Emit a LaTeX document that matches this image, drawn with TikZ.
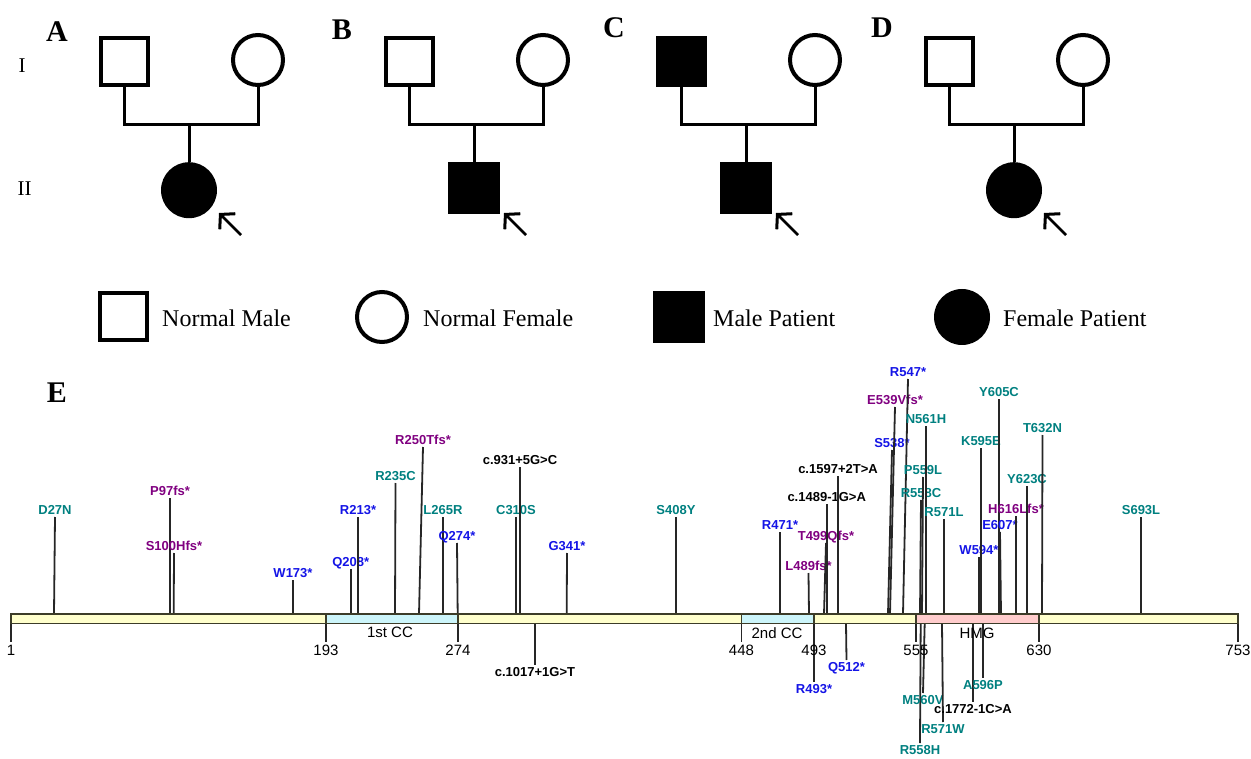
\documentclass[tikz,border=0pt]{standalone}
\usepackage{fontspec}
\setmainfont{Liberation Serif}
\setsansfont{Liberation Sans}
\usetikzlibrary{arrows.meta}
\definecolor{mteal}{RGB}{0,128,128}
\definecolor{mpurp}{RGB}{128,0,128}
\definecolor{mblue}{RGB}{20,20,230}
\definecolor{baryel}{RGB}{255,255,204}
\definecolor{cccyan}{RGB}{204,245,250}
\definecolor{hmgpink}{RGB}{255,204,204}
\definecolor{barline}{RGB}{60,60,40}
\begin{document}
\begin{tikzpicture}[x=1pt,y=-1pt,
  msq/.style={draw,line width=4pt,minimum size=47pt,inner sep=0pt,fill=white},
  fsq/.style={fill=black,minimum size=52pt,inner sep=0pt},
  mcirc/.style={circle,draw,line width=4pt,minimum size=50pt,inner sep=0pt,fill=white},
  fcirc/.style={circle,fill=black,minimum size=56pt,inner sep=0pt},
  conn/.style={line width=3pt},
  arr/.style={line width=2.8pt,-{Straight Barb[length=10pt,width=22pt,line width=3pt]}},
  panel/.style={font=\bfseries\fontsize{30}{30}\selectfont,inner sep=0pt},
  gen/.style={font=\fontsize{21}{21}\selectfont,inner sep=0pt},
  legtxt/.style={font=\fontsize{24}{26}\selectfont,inner sep=0pt,anchor=west},
  mut/.style={font=\sffamily\bfseries\fontsize{13}{13}\selectfont,inner sep=0pt},
  numlab/.style={font=\sffamily\fontsize{15}{15}\selectfont,inner sep=0pt},
  domlab/.style={font=\sffamily\fontsize{15}{15}\selectfont,inner sep=0pt},
  stem/.style={line width=1.8pt,black!85},
  barst/.style={line width=1.5pt,draw=barline}]
\useasboundingbox (0,0) rectangle (1251,759);

% generation labels
\node[gen] (gI) at (22,66) {I};
\node[gen] (gII) at (24.5,189) {II};

% pedigrees
\foreach \P/\sx/\ly/\ff/\cs in {A/98/32/white/fcirc, B/383/30/white/fsq, C/655/28/black/fsq, D/923/28/white/fcirc}{
  \node[panel] (L\P) at (\sx-41,\ly) {\P};
  \node[msq,fill=\ff] (f\P) at (\sx+26,61.5) {};
  \node[mcirc] (m\P) at (\sx+160,60) {};
  \coordinate (j\P) at (\sx+91,125);
  \node[\cs,anchor=north] (c\P) at (\sx+91,162) {};
  \draw[conn] (f\P.south) |- (j\P) -| (m\P.south);
  \draw[conn] (j\P) -- (c\P.north);
  \coordinate (as\P) at (\sx+143,235);
  \coordinate (ae\P) at (\sx+121,213);
  \draw[arr] (as\P) -- (ae\P);
}

% legend
\node[msq] (lg1) at (123.5,316.5) {};
\node[legtxt] (lt1) at (162,318) {Normal Male};
\node[mcirc,minimum size=50pt] (lg2) at (382,317) {};
\node[legtxt] (lt2) at (423,318) {Normal Female};
\node[fsq] (lg3) at (678.5,317) {};
\node[legtxt] (lt3) at (713,318) {Male Patient};
\node[fcirc] (lg4) at (962,317) {};
\node[legtxt] (lt4) at (1003,318) {Female Patient};

% panel E
\node[panel] (LE) at (57,393) {E};

% stems above
\foreach \n/\xb/\lx/\yt/\col/\txt in {
 m1/54/55/517/mteal/D27N,
 m2/170/170/498/mpurp/P97fs*,
 m3/173.7/174/553/mpurp/S100Hfs*,
 m4/293/293/580/mblue/W173*,
 m5/350.7/350.7/569/mblue/Q208*,
 m6/358/358/517/mblue/R213*,
 m7/395/395.5/483/mteal/R235C,
 m8/419/423/447/mpurp/R250Tfs*,
 m9/443/443/517/mteal/L265R,
 m10/457.7/457/543/mblue/Q274*,
 m11/516/516/517/mteal/C310S,
 m12/520/520/467/black/c.931+5G>C,
 m13/566.7/567/553/mblue/G341*,
 m14/676/676/517/mteal/S408Y,
 m15/780/780/532/mblue/R471*,
 m16/809/808.5/573/mpurp/L489fs*,
 m17/824/826/543/mpurp/T499Qfs*,
 m18/826.7/826.7/504/black/c.1489-1G>A,
 m19/838/838/476/black/c.1597+2T>A,
 m20/888/892/450/mblue/S538*,
 m21/890/895/407/mpurp/E539Vfs*,
 m22/903/908/379/mblue/R547*,
 m23/920/921/500/mteal/R558C,
 m24/922/923/477/mteal/P559L,
 m25/926/926/426/mteal/N561H,
 m26/944/944/519/mteal/R571L,
 m27/979/979/557/mblue/W594*,
 m28/981/981/448/mteal/K595E,
 m29/999/999/399/mteal/Y605C,
 m30/1001/1000/532/mblue/E607*,
 m31/1016/1016/516/mpurp/H616Lfs*,
 m32/1027/1027/486/mteal/Y623C,
 m33/1042/1042.5/435/mteal/T632N,
 m34/1141/1141/517/mteal/S693L}{
  \node[mut,text=\col,anchor=base] (\n) at (\lx,\yt-2.5) {\txt};
  \coordinate (b\n) at (\xb,614);
  \draw[stem] (b\n) -- ([yshift=-2.5pt]\n.base);
}

% stems below
\foreach \n/\xb/\lx/\yb/\col/\txt in {
 n1/535/535/665/black/c.1017+1G>T,
 n2/814/814/682/mblue/R493*,
 n3/846/846.5/660/mblue/Q512*,
 n4/920.7/920/743/mteal/R558H,
 n5/924.7/923/693/mteal/M560V,
 n6/942/943/722/mteal/R571W,
 n7/973/973/702/black/c.1772-1C>A,
 n8/983/983/678/mteal/A596P}{
  \node[mut,text=\col,anchor=north] (\n) at (\lx,\yb+2.5) {\txt};
  \coordinate (b\n) at (\xb,623.5);
  \draw[stem] (b\n) -- ([yshift=2.5pt]\n.north);
}

% position ticks
\foreach \n/\x/\txt in {t1/11/1, t2/326/193, t3/458/274, t4/741.5/448, t5/814/493, t6/916/555, t7/1039/630, t8/1238/753}{
  \node[numlab,anchor=north] (\n) at (\x,644.5) {\txt};
  \coordinate (b\n) at (\x,623.5);
  \draw[stem] (b\n) -- ([yshift=2.5pt]\n.north);
}

% protein bar and domains
\draw[barst,fill=baryel] (11,614) rectangle (1238,623.5);
\draw[barst,fill=cccyan] (326,614) rectangle (458,623.5);
\draw[barst,fill=cccyan] (741.5,614) rectangle (814,623.5);
\draw[barst,fill=hmgpink] (916,614) rectangle (1039,623.5);
\node[domlab] (d1) at (390,632.5) {1st CC};
\node[domlab] (d2) at (777,633) {2nd CC};
\node[domlab] (d3) at (977,633) {HMG};
\end{tikzpicture}
\end{document}
